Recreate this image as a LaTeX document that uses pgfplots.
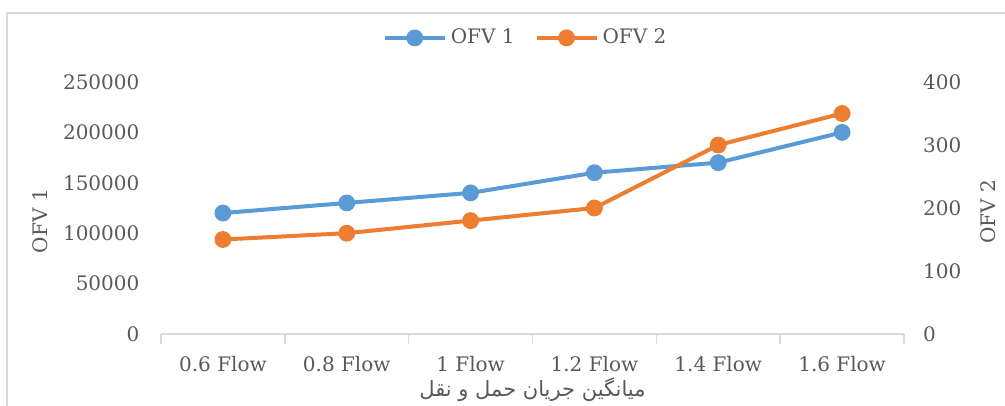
\documentclass[border=0pt]{standalone}
\usepackage{fontspec}
\setmainfont{DejaVu Serif}
\newfontfamily\arabicfont[Script=Arabic]{DejaVu Sans}
\TeXXeTstate=1
\usepackage{pgfplots}
\pgfplotsset{compat=1.18}
\definecolor{cblue}{HTML}{5B9BD5}
\definecolor{corange}{HTML}{ED7D31}
\definecolor{ctext}{HTML}{595959}
\definecolor{cline}{HTML}{D9D9D9}
\begin{document}
\begin{tikzpicture}[font=\fontsize{10}{12}\selectfont]
\pgfplotsset{
  common/.style={
    scale only axis, width=371.5pt, height=126pt,
    at={(0,0)}, anchor=south west,
    xmin=-0.5, xmax=5.5,
    /pgf/number format/assume math mode=true,
    /pgf/number format/fixed,
    /pgf/number format/1000 sep={},
    scaled y ticks=false,
    every tick label/.append style={text=ctext},
    label style={text=ctext},
    ytick style={draw=none},
  },
  myleg/.style={legend image code/.code={
    \draw[mark repeat=2,mark phase=2,##1] plot coordinates {(0pt,0pt) (15pt,0pt) (30pt,0pt)};}},
}
\begin{axis}[common,
  axis x line*=bottom, axis y line*=left,
  y axis line style={draw=none},
  x axis line style={draw=cline, line width=0.8pt},
  xtick={0,...,5},
  xticklabels={0.6 Flow,0.8 Flow,1 Flow,1.2 Flow,1.4 Flow,1.6 Flow},
  major x tick style={draw=none},
  minor xtick={-0.5,0.5,...,5.5},
  minor x tick style={draw=cline, line width=0.8pt},
  minor tick length=5pt,
  tick align=outside,
  xticklabel style={yshift=-3.5pt},
  ymin=0, ymax=250000, ytick={0,50000,...,250000},
  yticklabel style={xshift=-3pt},
  ylabel={OFV 1},
  ylabel style={at={(axis description cs:-0.163,0.448)}, anchor=center, rotate=0},
  xlabel={\arabicfont\fontsize{10.5}{12}\selectfont\beginR میانگین جریان حمل و نقل\endR},
  xlabel style={at={(axis description cs:0.5,0)}, yshift=-28pt, anchor=center},
  myleg,
  legend columns=2,
  legend style={at={(axis description cs:0.492,1.175)}, anchor=center, draw=none, fill=none,
    text=ctext, font=\fontsize{10}{12}\selectfont,
    /tikz/every odd column/.append style={column sep=0pt},
    /tikz/every even column/.append style={column sep=8pt},
    nodes={inner xsep=2pt}},
]
\addplot[cblue, line width=2pt, mark=*, mark size=3.2pt] coordinates {
(0,120000) (1,130000) (2,140000) (3,160000) (4,170000) (5,200000)};
\addlegendentry{OFV 1}
\addlegendimage{corange, line width=2pt, mark=*, mark size=3.2pt}
\addlegendentry{OFV 2}
\end{axis}
\begin{axis}[common,
  axis x line=none, axis y line*=right,
  y axis line style={draw=none},
  ymin=0, ymax=400, ytick={0,100,...,400},
  yticklabel style={xshift=6pt},
  ylabel={OFV 2},
  ylabel style={at={(axis description cs:1.113,0.484)}, anchor=center, rotate=0},
]
\addplot[corange, line width=2pt, mark=*, mark size=3.2pt] coordinates {
(0,150) (1,160) (2,180) (3,200) (4,300) (5,350)};
\end{axis}
\pgfresetboundingbox
\path[use as bounding box] (-80.5pt,-36pt) rectangle (422pt,167pt);
\draw[cline, line width=0.8pt] (-77pt,-60pt) rectangle (440pt,160.5pt);
\end{tikzpicture}
\end{document}
